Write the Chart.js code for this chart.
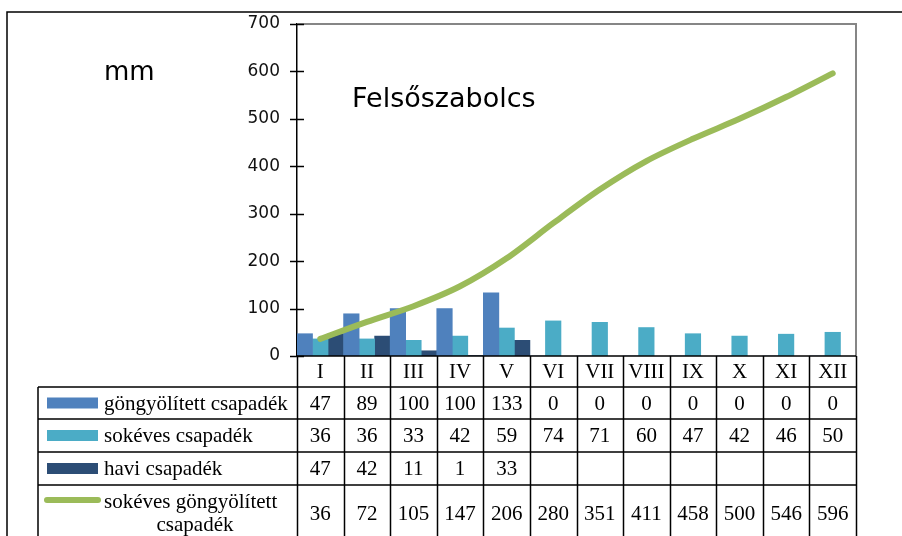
<!DOCTYPE html>
<html>
<head>
<meta charset="utf-8">
<script src="https://cdn.jsdelivr.net/npm/chart.js@4"></script>
<style>
  body { margin: 0; background: #fff; }
  #wrap { width: 902px; height: 536px; }
</style>
</head>
<body>
<div id="wrap"><canvas id="chart" width="902" height="536"></canvas></div>
<script>
// Data
const months = ["I", "II", "III", "IV", "V", "VI", "VII", "VIII", "IX", "X", "XI", "XII"];
const cumulative = [47, 89, 100, 100, 133, 0, 0, 0, 0, 0, 0, 0];
const longTerm = [36, 36, 33, 42, 59, 74, 71, 60, 47, 42, 46, 50];
const monthly = [47, 42, 11, 1, 33, null, null, null, null, null, null, null];
const longTermCumulative = [36, 72, 105, 147, 206, 280, 351, 411, 458, 500, 546, 596];

const seriesNames = ["göngyölített csapadék", "sokéves csapadék", "havi csapadék", "sokéves göngyölített csapadék"];
const colors = ["#4F81BD", "#4BACC6", "#2C4D75", "#9BBB59"];

const yTicks = [0, 100, 200, 300, 400, 500, 600, 700];

// Table rows drawn below the plot
const tableRows = [cumulative, longTerm, monthly, longTermCumulative];
const rowEdges = [387, 419, 452, 485, 545];

// Draws frame, texts, tick marks and the data table
const extrasPlugin = {
  id: "extras",
  afterDraw(chart) {
    const ctx = chart.ctx;
    const area = chart.chartArea;
    const y = chart.scales.y;
    const colW = (area.right - area.left) / months.length;
    const tableLeft = 38;
    ctx.save();

    // outer frame
    ctx.strokeStyle = "#000";
    ctx.lineWidth = 1.5;
    ctx.beginPath();
    ctx.moveTo(7, 600);
    ctx.lineTo(7, 12);
    ctx.lineTo(910, 12);
    ctx.stroke();

    // plot area top/right border
    ctx.strokeStyle = "#868686";
    ctx.lineWidth = 2;
    ctx.beginPath();
    ctx.moveTo(area.left, area.top);
    ctx.lineTo(area.right, area.top);
    ctx.lineTo(area.right, area.bottom);
    ctx.stroke();

    // y tick marks crossing the axis
    ctx.strokeStyle = "#000";
    ctx.lineWidth = 1.5;
    yTicks.forEach(v => {
      const py = Math.round(y.getPixelForValue(v)) + 0.5;
      ctx.beginPath();
      ctx.moveTo(area.left - 7, py);
      ctx.lineTo(area.left + 7, py);
      ctx.stroke();
    });

    // texts
    ctx.fillStyle = "#000";
    ctx.textBaseline = "alphabetic";
    ctx.textAlign = "left";
    ctx.font = "26px 'DejaVu Sans'";
    ctx.fillText("mm", 104, 80);
    ctx.font = "27px 'DejaVu Sans'";
    ctx.fillText("Felsőszabolcs", 352, 107);

    // table grid
    ctx.lineWidth = 1.5;
    ctx.strokeStyle = "#000";
    ctx.beginPath();
    ctx.moveTo(area.left, area.bottom);
    ctx.lineTo(area.right, area.bottom);
    for (let i = 0; i < rowEdges.length - 1; i++) {
      ctx.moveTo(tableLeft, rowEdges[i]);
      ctx.lineTo(area.right, rowEdges[i]);
    }
    for (let i = 0; i <= months.length; i++) {
      const px = Math.round(area.left + i * colW) + 0.5;
      ctx.moveTo(px, area.bottom);
      ctx.lineTo(px, 540);
    }
    ctx.moveTo(tableLeft, rowEdges[0]);
    ctx.lineTo(tableLeft, 540);
    ctx.stroke();

    // header row
    ctx.font = "21px 'Liberation Serif'";
    ctx.textAlign = "center";
    ctx.textBaseline = "middle";
    months.forEach((m, i) => {
      ctx.fillText(m, area.left + (i + 0.5) * colW, (area.bottom + rowEdges[0]) / 2 + 1);
    });

    // data rows
    tableRows.forEach((row, r) => {
      const top = rowEdges[r];
      const bottom = r === tableRows.length - 1 ? 541 : rowEdges[r + 1];
      const cy = (top + bottom) / 2 + 1;
      ctx.textAlign = "center";
      row.forEach((v, i) => {
        if (v === null) return;
        ctx.fillText(String(v), area.left + (i + 0.5) * colW, cy);
      });

      // legend key
      const keyY = r === 3 ? 500 : (top + rowEdges[r + 1]) / 2;
      if (r === 3) {
        ctx.strokeStyle = colors[r];
        ctx.lineWidth = 6;
        ctx.lineCap = "round";
        ctx.beginPath();
        ctx.moveTo(47, keyY);
        ctx.lineTo(98, keyY);
        ctx.stroke();
        ctx.lineCap = "butt";
      } else {
        ctx.fillStyle = colors[r];
        ctx.fillRect(47, keyY - 5.5, 51, 11);
      }
      ctx.fillStyle = "#000";
      ctx.textAlign = "left";
      if (r === 3) {
        ctx.fillText("sokéves göngyölített", 104, 502);
        ctx.textAlign = "center";
        ctx.fillText("csapadék", 195, 525);
      } else {
        ctx.fillText(seriesNames[r], 104, cy);
      }
    });

    ctx.restore();
  }
};

new Chart(document.getElementById("chart"), {
  type: "bar",
  data: {
    labels: months,
    datasets: [
      { label: seriesNames[3], type: "line", data: longTermCumulative, borderColor: colors[3],
        borderWidth: 6, pointRadius: 0, tension: 0.3, order: 0, borderCapStyle: "round" },
      { label: seriesNames[0], data: cumulative, backgroundColor: colors[0], order: 1 },
      { label: seriesNames[1], data: longTerm, backgroundColor: colors[1], order: 2 },
      { label: seriesNames[2], data: monthly, backgroundColor: colors[2], order: 3 }
    ]
  },
  options: {
    responsive: false,
    animation: false,
    events: [],
    layout: { padding: { left: 0, top: 24, right: 46, bottom: 180 } },
    datasets: { bar: { categoryPercentage: 1, barPercentage: 1 } },
    plugins: { legend: { display: false }, tooltip: { enabled: false } },
    scales: {
      x: { display: false },
      y: {
        min: 0, max: 700,
        afterFit: scale => { scale.width = 297; },
        afterBuildTicks: scale => { scale.ticks = yTicks.map(v => ({ value: v })); },
        border: { color: "#000", width: 1.5 },
        grid: { display: false },
        ticks: { padding: 9, color: "#111", font: { family: "DejaVu Sans", size: 17 } }
      }
    }
  },
  plugins: [extrasPlugin]
});
</script>
</body>
</html>
